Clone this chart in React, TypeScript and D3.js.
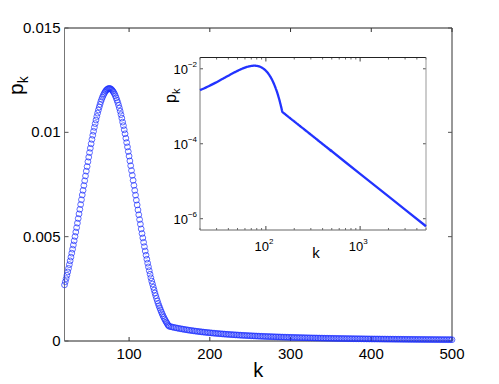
import React from "react";
import * as d3 from "d3";

// p_k values in units of 1e-4
// k = 20 .. 149, one value per k
const peakPk = [
  26.9, 28.4, 29.9, 31.5, 33.1, 34.8, 36.6, 38.4, 40.2, 42.1,
  44.0, 46.0, 48.0, 50.1, 52.2, 54.3, 56.5, 58.7, 60.9, 63.1,
  65.4, 67.7, 70.0, 72.2, 74.5, 76.8, 79.1, 81.4, 83.6, 85.9,
  88.1, 90.3, 92.4, 94.5, 96.6, 98.6, 100.5, 102.4, 104.2, 105.9,
  107.6, 109.2, 110.7, 112.1, 113.4, 114.7, 115.8, 116.8, 117.7, 118.5,
  119.2, 119.8, 120.3, 120.6, 120.9, 121.0, 121.0, 120.9, 120.6, 120.2,
  119.7, 119.1, 118.4, 117.5, 116.5, 115.4, 114.3, 113.0, 111.6, 110.1,
  108.5, 106.8, 104.9, 103.2, 101.2, 99.3, 97.2, 95.1, 93.0, 90.8,
  88.6, 86.3, 84.0, 81.7, 79.4, 77.0, 74.6, 72.2, 69.9, 67.5,
  65.2, 62.8, 60.5, 58.2, 56.0, 53.7, 51.5, 49.4, 47.3, 45.2,
  43.1, 41.1, 39.2, 37.3, 35.5, 33.7, 32.0, 30.3, 28.7, 27.3,
  25.8, 24.4, 23.0, 21.7, 20.4, 19.2, 18.0, 16.9, 15.9, 14.9,
  13.9, 13.0, 12.1, 11.3, 10.5, 9.8, 9.1, 8.5, 7.8, 7.3,
];
const peakStart = 20;

// k = 150 .. 500, every second k
const tailPk = [
  7.00, 6.82, 6.64, 6.47, 6.31, 6.15, 6.00, 5.86, 5.72, 5.58,
  5.45, 5.32, 5.20, 5.08, 4.97, 4.86, 4.75, 4.65, 4.55, 4.46,
  4.36, 4.27, 4.18, 4.10, 4.02, 3.94, 3.86, 3.78, 3.71, 3.64,
  3.57, 3.50, 3.44, 3.38, 3.31, 3.25, 3.20, 3.14, 3.08, 3.03,
  2.98, 2.93, 2.88, 2.83, 2.78, 2.73, 2.69, 2.65, 2.60, 2.56,
  2.52, 2.48, 2.44, 2.40, 2.37, 2.33, 2.29, 2.26, 2.23, 2.19,
  2.16, 2.13, 2.10, 2.07, 2.04, 2.01, 1.98, 1.95, 1.93, 1.90,
  1.87, 1.85, 1.82, 1.80, 1.77, 1.75, 1.73, 1.70, 1.68, 1.66,
  1.64, 1.62, 1.60, 1.58, 1.56, 1.54, 1.52, 1.50, 1.48, 1.46,
  1.45, 1.43, 1.41, 1.40, 1.38, 1.36, 1.35, 1.33, 1.32, 1.30,
  1.29, 1.27, 1.26, 1.24, 1.23, 1.22, 1.20, 1.19, 1.18, 1.16,
  1.15, 1.14, 1.13, 1.11, 1.10, 1.09, 1.08, 1.07, 1.06, 1.05,
  1.04, 1.02, 1.01, 1.00, 0.99, 0.98, 0.97, 0.96, 0.96, 0.95,
  0.94, 0.93, 0.92, 0.91, 0.90, 0.89, 0.88, 0.88, 0.87, 0.86,
  0.85, 0.84, 0.84, 0.83, 0.82, 0.81, 0.81, 0.80, 0.79, 0.78,
  0.78, 0.77, 0.76, 0.76, 0.75, 0.74, 0.74, 0.73, 0.73, 0.72,
  0.71, 0.71, 0.70, 0.70, 0.69, 0.68, 0.68, 0.67, 0.67, 0.66,
  0.66, 0.65, 0.65, 0.64, 0.64, 0.63,
];
const tailStart = 150;
const tailStep = 2;

// inset continues the tail further out
const farK = [700, 1000, 2000, 3000, 5000];
const farPk = [0.321, 0.158, 0.0394, 0.0175, 0.0063];

const xTicks = [100, 200, 300, 400, 500];
const yTicks = [0, 0.005, 0.01, 0.015];
const yTickLabels = ["0", "0.005", "0.01", "0.015"];
const insetYTicks = [1e-2, 1e-4, 1e-6];
const insetYLabels = ["\u22122", "\u22124", "\u22126"];
const insetXTicks = [100, 1000];
const insetXLabels = ["2", "3"];

const font = "'Liberation Sans', Arial, Helvetica, sans-serif";

const App = () => {
  const W = 499, H = 384;

  const points: [number, number][] = [];
  peakPk.forEach((v, i) => points.push([peakStart + i, v * 1e-4]));
  tailPk.forEach((v, i) => points.push([tailStart + i * tailStep, v * 1e-4]));
  const insetPoints: [number, number][] = points.concat(
    farK.map((k, i) => [k, farPk[i] * 1e-4] as [number, number])
  );

  // main axes
  const x = d3.scaleLinear().domain([20, 500]).range([64.5, 452]);
  const y = d3.scaleLinear().domain([0, 0.015]).range([341, 28]);
  const [x0, x1] = x.range();
  const [y0, y1] = y.range();

  // inset axes
  const ix = d3.scaleLog().domain([20, 5000]).range([200, 426]);
  const iy = d3.scaleLog().domain([5e-7, 0.02]).range([230, 57.5]);
  const [ix0, ix1] = ix.range();
  const [iy0, iy1] = iy.range();

  const line = d3.line<[number, number]>()
    .x(d => ix(d[0]))
    .y(d => iy(d[1]));

  const minorX: number[] = [];
  [10, 100, 1000].forEach(dec => {
    for (let m = 2; m <= 9; m++) {
      const v = dec * m;
      if (v >= 20 && v <= 5000) minorX.push(v);
    }
  });

  return (
    <svg width={W} height={H} style={{position: "absolute", left: 0, top: 0, background: "#fff"}}
         fontFamily={font}>
      <rect x={0} y={0} width={W} height={H} fill="#fff"/>

      {/* main box */}
      <line x1={x0} x2={x1} y1={y1} y2={y1} stroke="#222" strokeWidth={1}/>
      <line x1={x0} x2={x1} y1={y0} y2={y0} stroke="#222" strokeWidth={1}/>
      <line x1={x0} x2={x0} y1={y0} y2={y1} stroke="#777" strokeWidth={1}/>
      <line x1={x1} x2={x1} y1={y0} y2={y1} stroke="#333" strokeWidth={1}/>

      {xTicks.map(t => (
        <g key={"xt" + t}>
          <line x1={x(t)} x2={x(t)} y1={y0} y2={y0 - 4} stroke="#333"/>
          <line x1={x(t)} x2={x(t)} y1={y1} y2={y1 + 4} stroke="#333"/>
          <text x={x(t)} y={y0 + 18} fontSize={15} textAnchor="middle">{t}</text>
        </g>
      ))}
      {yTicks.map((t, i) => (
        <g key={"yt" + t}>
          <line x1={x0} x2={x0 + 4} y1={y(t)} y2={y(t)} stroke="#555"/>
          <line x1={x1} x2={x1 - 4} y1={y(t)} y2={y(t)} stroke="#555"/>
          <text x={x0 - 4} y={y(t) + 5} fontSize={15} textAnchor="end">{yTickLabels[i]}</text>
        </g>
      ))}

      <text x={(x0 + x1) / 2} y={377} fontSize={20} textAnchor="middle">k</text>
      <text transform="translate(23,95) rotate(-90)" fontSize={21}>
        <tspan>p</tspan>
        <tspan fontSize={14} dy={5}>k</tspan>
      </text>

      {/* markers */}
      <g fill="none" stroke="#1a2cff" strokeWidth={0.7}>
        {points.map(d => (
          <circle key={"c" + d[0]} cx={x(d[0])} cy={y(d[1])} r={2.9}/>
        ))}
      </g>

      {/* inset */}
      <rect x={ix0} y={iy1} width={ix1 - ix0} height={iy0 - iy1} fill="#fff"/>
      {minorX.map(t => (
        <g key={"mx" + t}>
          <line x1={ix(t)} x2={ix(t)} y1={iy0} y2={iy0 - 2} stroke="#444" strokeWidth={0.8}/>
          <line x1={ix(t)} x2={ix(t)} y1={iy1} y2={iy1 + 2} stroke="#444" strokeWidth={0.8}/>
        </g>
      ))}
      {insetXTicks.map((t, i) => (
        <g key={"ixt" + t}>
          <line x1={ix(t)} x2={ix(t)} y1={iy0} y2={iy0 - 4} stroke="#444"/>
          <line x1={ix(t)} x2={ix(t)} y1={iy1} y2={iy1 + 4} stroke="#444"/>
          <text x={ix(t) - 2} y={iy0 + 21} fontSize={13} textAnchor="middle">
            <tspan>10</tspan>
            <tspan fontSize={8} dy={-7}>{insetXLabels[i]}</tspan>
          </text>
        </g>
      ))}
      {insetYTicks.map((t, i) => (
        <g key={"iyt" + t}>
          <line x1={ix0} x2={ix0 + 3} y1={iy(t)} y2={iy(t)} stroke="#555"/>
          <line x1={ix1} x2={ix1 - 3} y1={iy(t)} y2={iy(t)} stroke="#555"/>
          <text x={ix0 - 3} y={iy(t) + 5} fontSize={13} textAnchor="end">
            <tspan>10</tspan>
            <tspan fontSize={8} dy={-7}>{insetYLabels[i]}</tspan>
          </text>
        </g>
      ))}
      <line x1={ix0} x2={ix1} y1={iy1} y2={iy1} stroke="#222" strokeWidth={1}/>
      <line x1={ix0} x2={ix1} y1={iy0} y2={iy0} stroke="#666" strokeWidth={1}/>
      <line x1={ix0} x2={ix0} y1={iy0} y2={iy1} stroke="#777" strokeWidth={1}/>
      <line x1={ix1} x2={ix1} y1={iy0} y2={iy1} stroke="#999" strokeWidth={1}/>

      <path d={line(insetPoints) || ""} fill="none" stroke="#2233ff" strokeWidth={2.3}/>

      <text x={(ix0 + ix1) / 2 + 3} y={258} fontSize={15} textAnchor="middle">k</text>
      <text transform="translate(176,103) rotate(-90)" fontSize={16}>
        <tspan>p</tspan>
        <tspan fontSize={11} dy={4}>k</tspan>
      </text>
    </svg>
  );
};

export default App;
